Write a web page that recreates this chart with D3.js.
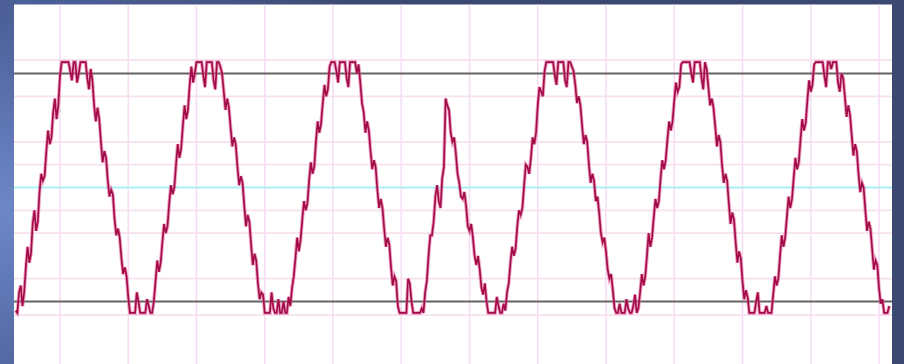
<!DOCTYPE html>
<html>
<head>
<meta charset="utf-8">
<script src="https://cdn.jsdelivr.net/npm/d3@7"></script>
<style>
  html, body { margin: 0; padding: 0; background: #3c4a70; }
  svg { display: block; }
</style>
</head>
<body>
<svg id="chart" width="904" height="364"></svg>
<script>
// Time axis: one grid division per unit
const gridTimes = [0, 1, 2, 3, 4, 5, 6, 7, 8, 9, 10, 11, 12];
// Reference levels (volts)
const gridLevels = [-5.6, -4, -2, -1, 1, 2, 4, 5.6];
const limitLevels = [-5, 5];
const centerLevels = [0];

// Sampled waveform: first sample time and spacing
const sampleStart = -0.65;
const sampleStep = 0.025;
const signal = [
  -5.4,-5.5,-4.6,-4.3,-5.2,-4.6,-3.5,-2.6,-3.3,-2.9,-1.6,-1.0,-1.9,-1.5,-0.2,0.6,0.3,0.5,1.6,2.5,
  1.9,2.2,3.3,3.9,3.0,3.6,4.9,5.5,5.5,5.5,5.5,5.5,5.1,4.7,5.5,5.5,4.6,5.0,5.5,5.5,
  5.5,5.5,4.8,4.3,5.2,4.7,3.6,2.9,3.5,3.0,2.0,1.1,1.6,1.3,0.3,-0.4,-0.1,-0.3,-1.4,-2.1,
  -1.8,-2.2,-3.1,-3.8,-3.5,-3.9,-4.8,-5.5,-5.5,-5.5,-5.5,-4.6,-5.0,-5.5,-5.5,-5.5,-5.5,-4.9,-5.2,-5.5,
  -5.5,-5.0,-4.1,-3.2,-3.7,-3.3,-2.4,-1.6,-2.0,-1.7,-0.7,0.1,-0.3,0.0,1.0,1.9,1.3,1.7,2.7,3.6,
  3.0,3.4,4.5,5.3,4.6,5.0,5.5,5.5,5.5,5.5,4.9,4.4,5.5,5.5,5.5,5.5,4.7,4.3,5.5,5.5,
  5.3,5.0,4.2,3.4,3.9,3.5,2.6,1.8,2.2,1.9,0.9,0.1,0.5,0.2,-0.8,-1.7,-1.2,-1.5,-2.5,-3.4,
  -2.9,-3.2,-4.2,-4.9,-4.6,-4.7,-5.5,-5.5,-5.5,-5.5,-4.6,-5.3,-5.5,-5.5,-4.9,-5.5,-5.5,-5.0,-5.5,-5.5,
  -4.8,-5.2,-4.4,-3.9,-3.1,-2.2,-2.8,-2.3,-1.4,-0.6,-1.0,-0.7,0.3,1.1,0.6,0.9,2.0,2.9,2.4,2.8,
  3.7,4.5,4.0,4.3,5.3,5.5,5.5,5.5,5.1,4.6,5.5,5.5,5.5,5.5,4.8,4.4,5.5,5.5,5.5,5.5,
  5.0,5.4,4.6,3.7,3.3,2.4,2.9,2.5,1.6,0.8,1.2,0.9,-0.1,-0.9,-0.5,-0.9,-1.8,-2.6,-2.2,-2.5,
  -3.5,-4.3,-3.9,-4.1,-5.2,-5.5,-5.5,-5.5,-5.5,-5.5,-4.0,-4.2,-5.0,-5.5,-5.5,-5.5,-5.5,-5.5,-5.3,-5.5,
  -4.6,-4.1,-3.0,-2.1,-2.1,-1.5,-0.4,0.1,-0.6,-0.9,0.4,0.9,3.9,3.6,3.4,2.4,2.0,2.2,1.5,0.6,
  0.2,-0.4,-0.5,-0.2,-0.8,-1.7,-1.9,-1.6,-2.2,-3.0,-3.4,-3.0,-3.6,-4.4,-4.7,-4.2,-5.0,-5.5,-5.5,-5.5,
  -5.5,-5.5,-4.8,-5.2,-5.5,-5.5,-5.1,-5.4,-4.6,-4.2,-3.3,-2.6,-3.0,-2.7,-1.7,-1.0,-1.2,-0.9,0.1,1.0,
  0.9,0.6,1.3,2.2,1.9,2.4,3.6,4.4,4.2,4.0,5.1,5.5,5.5,5.5,5.5,5.5,4.9,4.5,5.5,5.5,
  5.5,5.5,4.7,4.4,5.5,5.5,5.3,5.1,4.5,3.7,4.0,3.6,2.7,1.9,2.3,2.0,1.0,0.2,0.6,0.3,
  -0.6,-0.4,-1.1,-2.0,-2.4,-2.2,-2.8,-3.6,-4.0,-3.8,-4.5,-5.3,-5.5,-5.5,-5.1,-5.5,-5.5,-5.5,-4.9,-5.3,
  -5.5,-5.5,-5.2,-4.7,-5.5,-5.3,-4.6,-3.8,-4.3,-3.9,-3.0,-2.0,-2.6,-2.2,-1.3,-0.5,-0.9,-0.6,0.4,1.2,
  0.8,1.2,2.1,2.9,2.5,2.9,3.8,4.6,4.2,4.4,5.4,5.5,5.5,5.5,5.5,5.5,5.0,4.6,5.5,5.5,
  5.5,5.5,4.8,4.3,5.5,5.2,4.4,3.6,3.9,3.5,2.7,1.8,2.3,2.0,1.0,0.2,0.6,0.3,-0.7,-1.6,
  -1.1,-1.4,-2.4,-3.3,-2.8,-3.1,-4.1,-4.9,-4.5,-4.8,-5.5,-5.5,-5.5,-5.5,-5.0,-4.6,-5.5,-5.5,-5.5,-5.5,
  -5.2,-5.5,-5.5,-5.5,-4.7,-3.9,-4.3,-4.0,-3.0,-2.1,-2.6,-2.2,-1.3,-0.4,-0.9,-0.5,0.4,1.3,0.8,1.1,
  2.1,3.0,2.5,2.8,3.8,4.7,4.2,4.5,5.4,5.5,5.5,5.5,5.5,5.5,4.9,4.4,5.5,5.5,5.2,5.5,
  5.5,5.5,4.6,4.2,5.0,4.8,4.0,3.1,3.6,3.2,2.3,1.4,1.9,1.6,0.6,-0.2,0.2,0.0,-1.0,-1.9,
  -1.5,-1.8,-2.7,-3.6,-3.2,-3.4,-4.4,-5.1,-4.9,-5.5,-5.5,-5.5,-5.2
];

const W = 904, H = 364;
const panel = { left: 14, top: 4.5, right: 892, bottom: 364 };

const svg = d3.select("#chart");
const defs = svg.append("defs");

// Slide backdrop: bright blue glow on the left fading to navy
const bg = defs.append("radialGradient")
  .attr("id", "backdrop")
  .attr("gradientUnits", "userSpaceOnUse")
  .attr("cx", 0).attr("cy", 210).attr("r", 420);
bg.append("stop").attr("offset", "0%").attr("stop-color", "#6d88c9");
bg.append("stop").attr("offset", "45%").attr("stop-color", "#4d6199");
bg.append("stop").attr("offset", "100%").attr("stop-color", "#3b4870");

defs.append("clipPath").attr("id", "plotClip")
  .append("rect")
  .attr("x", panel.left).attr("y", panel.top)
  .attr("width", panel.right - panel.left)
  .attr("height", panel.bottom - panel.top);

defs.append("filter").attr("id", "soft")
  .append("feGaussianBlur").attr("stdDeviation", 0.5);

svg.append("rect").attr("width", W).attr("height", H).attr("fill", "url(#backdrop)");

svg.append("rect")
  .attr("x", panel.left).attr("y", panel.top)
  .attr("width", panel.right - panel.left)
  .attr("height", panel.bottom - panel.top)
  .attr("fill", "#ffffff");

const x = d3.scaleLinear()
  .domain([(panel.left - 60) / 68.25, (panel.right - 60) / 68.25])
  .range([panel.left, panel.right]);

const y = d3.scaleLinear()
  .domain([-5, 5])
  .range([301.5, 73.5]);

const plot = svg.append("g").attr("clip-path", "url(#plotClip)").attr("filter", "url(#soft)");

// Vertical time grid
plot.append("g").selectAll("line")
  .data(gridTimes).join("line")
  .attr("x1", d => x(d)).attr("x2", d => x(d))
  .attr("y1", panel.top).attr("y2", panel.bottom)
  .attr("stroke", "#f4dcf2").attr("stroke-width", 1.5);

// Horizontal voltage grid
plot.append("g").selectAll("line")
  .data(gridLevels).join("line")
  .attr("x1", panel.left).attr("x2", panel.right)
  .attr("y1", d => y(d)).attr("y2", d => y(d))
  .attr("stroke", "#f7e1ef").attr("stroke-width", 1.8);

// Zero reference
plot.append("g").selectAll("line")
  .data(centerLevels).join("line")
  .attr("x1", panel.left).attr("x2", panel.right)
  .attr("y1", d => y(d)).attr("y2", d => y(d))
  .attr("stroke", "#aaf1f3").attr("stroke-width", 2);

// Limit lines
plot.append("g").selectAll("line")
  .data(limitLevels).join("line")
  .attr("x1", panel.left).attr("x2", panel.right)
  .attr("y1", d => y(d)).attr("y2", d => y(d))
  .attr("stroke", "#626262").attr("stroke-width", 2);

// Waveform trace: pale halo under a dark core
const line = d3.line()
  .x((d, i) => x(sampleStart + i * sampleStep))
  .y(d => y(d));

plot.append("path")
  .datum(signal)
  .attr("d", line)
  .attr("fill", "none")
  .attr("stroke", "#e2639b")
  .attr("stroke-opacity", 0.6)
  .attr("stroke-width", 3.6);

plot.append("path")
  .datum(signal)
  .attr("d", line)
  .attr("fill", "none")
  .attr("stroke", "#a30e47")
  .attr("stroke-width", 1.7);
</script>
</body>
</html>
